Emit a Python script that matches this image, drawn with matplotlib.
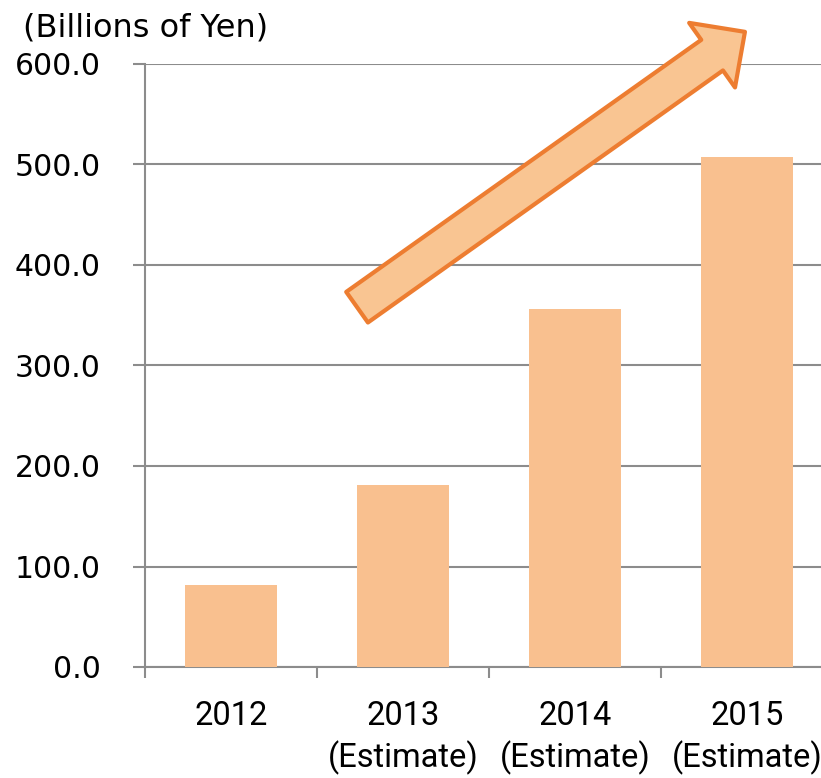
import matplotlib
matplotlib.use("Agg")
from matplotlib import pyplot as plt
from matplotlib.patches import FancyArrowPatch
import numpy as np

years = ["2012", "2013\n(Estimate)", "2014\n(Estimate)", "2015\n(Estimate)"]
sales = [81.7, 181.0, 356.0, 507.5]
y_ticks = [0, 100, 200, 300, 400, 500, 600]

bar_color = "#F9C08F"
grid_color = "#8C8C8C"

fig = plt.figure(figsize=(8.21, 7.78), dpi=100)
ax = fig.add_axes([145 / 821, 1 - 667 / 778, (833 - 145) / 821, (667 - 64) / 778])

x = np.arange(len(years))
ax.bar(x, sales, width=0.53, color=bar_color, zorder=3)

ax.set_xlim(-0.5, len(years) - 0.5)
ax.set_ylim(0, 600)
ax.set_yticks(y_ticks)
ax.set_yticklabels(["{:.1f}".format(v) for v in y_ticks], fontsize=21.5, family="DejaVu Sans")
ax.yaxis.grid(True, color=grid_color, linewidth=1.5, zorder=0)
ax.tick_params(axis="y", length=9, width=1.5, color=grid_color, pad=23)

# category labels at centres, tick marks at boundaries
ax.set_xticks(x)
ax.set_xticklabels(years, fontsize=23.5, family=["Roboto", "DejaVu Sans"],
                   linespacing=1.32)
ax.set_xticks(np.arange(-0.5, len(years), 1.0), minor=True)
ax.tick_params(axis="x", which="major", length=0, pad=24)
ax.tick_params(axis="x", which="minor", length=8, width=1.5, color=grid_color)

for s in ["top", "right"]:
    ax.spines[s].set_visible(False)
for s in ["left", "bottom"]:
    ax.spines[s].set_color(grid_color)
    ax.spines[s].set_linewidth(1.5)

fig.text(23 / 821, 1 - 28 / 778, "(Billions of Yen)", fontsize=23, family="DejaVu Sans",
         va="center", ha="left")

# big growth arrow
arrow = FancyArrowPatch((0.733, 358), (2.988, 632),
                        arrowstyle="simple,head_length=29,head_width=57,tail_width=27",
                        mutation_scale=1, shrinkA=0, shrinkB=0,
                        facecolor="#F9C592", edgecolor="#ED7D31", linewidth=3,
                        clip_on=False, zorder=5)
ax.add_patch(arrow)

fig.savefig("out.png", dpi=100)
